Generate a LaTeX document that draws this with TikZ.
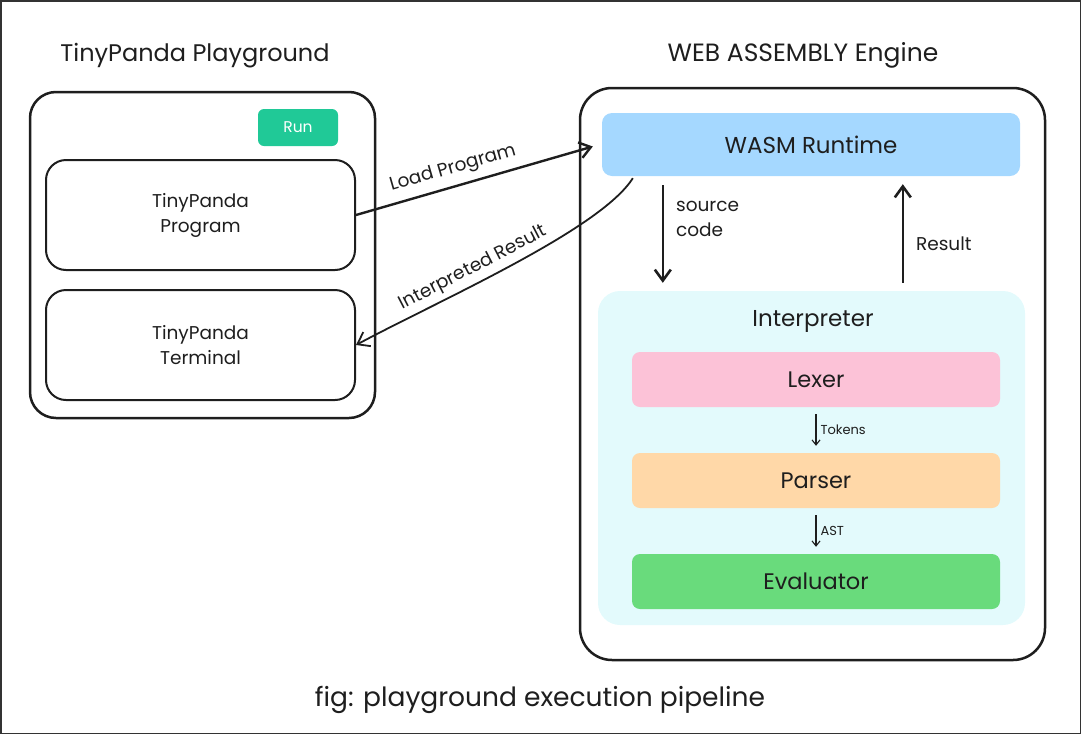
\documentclass[tikz,border=0pt]{standalone}
\usepackage{fontspec}
\setmainfont{Poppins}
\usetikzlibrary{arrows.meta}
\definecolor{ink}{HTML}{1E1E1E}
\definecolor{runteal}{HTML}{20C997}
\definecolor{wasmblue}{HTML}{A5D8FF}
\definecolor{interpcyan}{HTML}{E3FAFC}
\definecolor{lexpink}{HTML}{FCC2D7}
\definecolor{parseorange}{HTML}{FFD8A8}
\definecolor{evalgreen}{HTML}{69DB7C}
\begin{document}
\begin{tikzpicture}
  [x=1pt,y=-1pt,every node/.style={text=ink,inner sep=0pt,align=center}]
  \tikzstyle{frame} = [draw=ink,line width=2.5pt,rounded corners=26pt]
  \tikzstyle{panel} = [draw=ink,line width=2pt,rounded corners=20pt,minimum width=309pt,minimum height=110pt,font=\fontsize{18.5}{25}\selectfont]
  \tikzstyle{stage} = [rounded corners=8pt,minimum width=368pt,minimum height=55pt,font=\fontsize{22.5}{26}\selectfont]
  \tikzstyle{heading} = [font=\fontsize{24}{28}\selectfont]
  \tikzstyle{bigarrow} = [draw=ink,line width=2.6pt,-{Straight Barb[length=11pt,width=16pt]}]
  \tikzstyle{smallarrow} = [draw=ink,line width=1.1pt,-{Straight Barb[length=5pt,width=8pt]}]
  \tikzstyle{lbl} = [font=\fontsize{18.5}{25}\selectfont]

  \useasboundingbox (0,0) rectangle (1081,734);
  \draw[black!80,line width=1.5pt] (0.75,0.75) rectangle (1080.25,733.25);

  % playground side
  \node[heading] (pgtitle) at (195,56) {TinyPanda Playground};
  \node[frame,minimum width=345pt,minimum height=326pt] (pg) at (202.5,255) {};
  \node[fill=runteal,rounded corners=6pt,minimum width=80pt,minimum height=37pt,text=white,font=\fontsize{15.5}{18}\selectfont] (run) at (298,127.5) {Run};
  \node[panel] (prog) at (200.5,215) {TinyPanda\\Program};
  \node[panel] (term) at (200.5,345) {TinyPanda\\Terminal};

  % engine side
  \node[heading,font=\fontsize{25}{28}\selectfont] (engtitle) at (803,55) {WEB ASSEMBLY Engine};
  \node[frame,minimum width=465pt,minimum height=572pt,rounded corners=32pt] (eng) at (812.5,374) {};
  \node[fill=wasmblue,rounded corners=10pt,minimum width=418pt,minimum height=63pt,font=\fontsize{23}{26}\selectfont] (wasm) at (811,144.5) {WASM Runtime};
  \node[fill=interpcyan,rounded corners=22pt,minimum width=427pt,minimum height=334pt] (interp) at (811.5,458) {};
  \node[font=\fontsize{23}{26}\selectfont] (interptitle) at (813,321) {Interpreter};

  \foreach \name/\y/\col/\txt in {lexer/379.5/lexpink/Lexer,parser/480.5/parseorange/Parser,eval/581.5/evalgreen/Evaluator}
    \node[stage,fill=\col] (\name) at (816,\y) {\txt};

  \foreach \source/\dest/\what in {lexer/parser/Tokens,parser/eval/AST}
    \draw[smallarrow,shorten <=7pt,shorten >=7pt] (\source) -- node[right=4pt,font=\fontsize{13}{15}\selectfont] {\what} (\dest);

  % runtime <-> interpreter
  \draw[bigarrow] ([xshift=61pt,yshift=-9pt]wasm.south west) -- node[right=12pt,lbl,align=left,pos=0.35] {source\\code} ([xshift=65pt,yshift=8pt]interp.north west);
  \draw[bigarrow] ([xshift=305pt,yshift=8pt]interp.north west) -- node[right=12pt,lbl,pos=0.4] {Result} ([xshift=301pt,yshift=-8pt]wasm.south west);

  % playground <-> runtime
  \draw[bigarrow,line width=2.4pt] (prog.east) -- node[sloped,above=7pt,pos=0.43,lbl] {Load Program} ([xshift=-9pt,yshift=-2pt]wasm.west);
  \draw[draw=ink,line width=1.8pt,-{Straight Barb[length=11pt,width=16pt]}] ([xshift=31pt,yshift=-2pt]wasm.south west) .. controls (600,230) and (440,300) .. node[sloped,above=5pt,pos=0.6,lbl] {Interpreted Result} (term.east);

  \node[font=\fontsize{26.5}{30}\selectfont] (caption) at (540,700) {fig: playground execution pipeline};
\end{tikzpicture}
\end{document}
